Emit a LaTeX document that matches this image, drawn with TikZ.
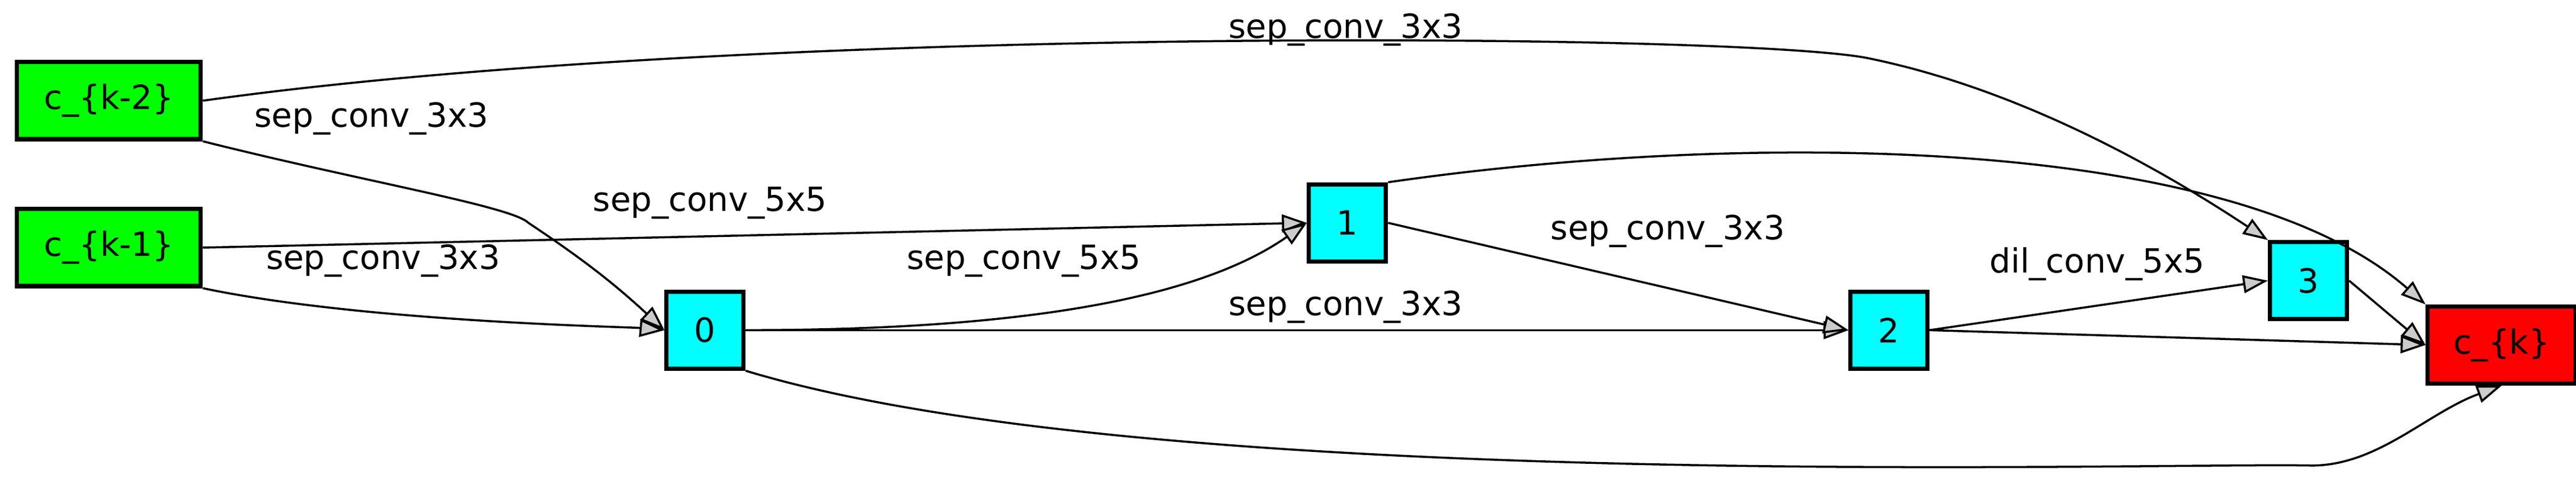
\documentclass[tikz,border=0pt]{standalone}
\usepackage{fontspec}
\setmainfont{DejaVu Sans}
\usetikzlibrary{arrows.meta}
\definecolor{cy}{RGB}{0,255,255}
\definecolor{gr}{RGB}{0,255,0}
\definecolor{rd}{RGB}{255,0,0}
\begin{document}
\begin{tikzpicture}[x=0.02787cm,y=-0.02787cm,
 box/.style={draw,line width=2pt,minimum height=1.3cm,inner sep=0pt,font=\fontsize{16}{18}\selectfont},
 inp/.style={box,fill=gr,minimum width=3.1cm},
 mid/.style={box,fill=cy,minimum width=1.3cm},
 outbox/.style={box,fill=rd,minimum width=2.5cm},
 edge/.style={line width=1pt,-{Triangle[length=0.42cm,width=0.3cm,fill=gray!40]}},
 lab/.style={font=\fontsize{16}{18}\selectfont}]
\useasboundingbox (0,0) rectangle (1560,293);
\node[inp] (a) at (66,61) {c\_\{k-2\}};
\node[inp] (b) at (66,150) {c\_\{k-1\}};
\node[mid] (n0) at (427,200) {0};
\node[mid] (n1) at (816,135) {1};
\node[mid] (n2) at (1144,200) {2};
\node[mid] (n3) at (1398,170) {3};
\node[outbox] (c) at (1515,209) {c\_\{k\}};
\draw[edge] (a.east) .. controls (450,15) and (1050,20) .. (1130,35) .. controls (1230,55) and (1320,110) .. (n3.north west);
\draw[edge] (a.south east) .. controls (220,110) and (310,125) .. (320,135) .. controls (350,155) and (370,170) .. (n0.west);
\draw[edge] (b.east) -- (n1.west);
\draw[edge] (b.south east) .. controls (220,195) and (380,198) .. (n0.west);
\draw[edge] (n0.east) .. controls (600,200) and (720,185) .. (n1.west);
\draw[edge] (n0.east) -- (n2.west);
\draw[edge] (n1.east) -- (n2.west);
\draw[edge] (n2.east) -- (n3.west);
\draw[edge] (n1.north east) .. controls (1050,80) and (1350,80) .. (c.north west);
\draw[edge] (n3.east) -- (c.west);
\draw[edge] (n2.east) -- (c.west);
\draw[edge] (n0.south east) .. controls (700,300) and (1300,280) .. (1400,282) .. controls (1440,282) and (1470,250) .. (c.south);
\node[lab] (l1) at (815,18) {sep\_conv\_3x3};
\node[lab] (l2) at (225,72) {sep\_conv\_3x3};
\node[lab] (l3) at (430,123) {sep\_conv\_5x5};
\node[lab] (l4) at (232,158) {sep\_conv\_3x3};
\node[lab] (l5) at (620,158) {sep\_conv\_5x5};
\node[lab] (l6) at (815,186) {sep\_conv\_3x3};
\node[lab] (l7) at (1010,140) {sep\_conv\_3x3};
\node[lab] (l8) at (1270,160) {dil\_conv\_5x5};
\end{tikzpicture}
\end{document}
